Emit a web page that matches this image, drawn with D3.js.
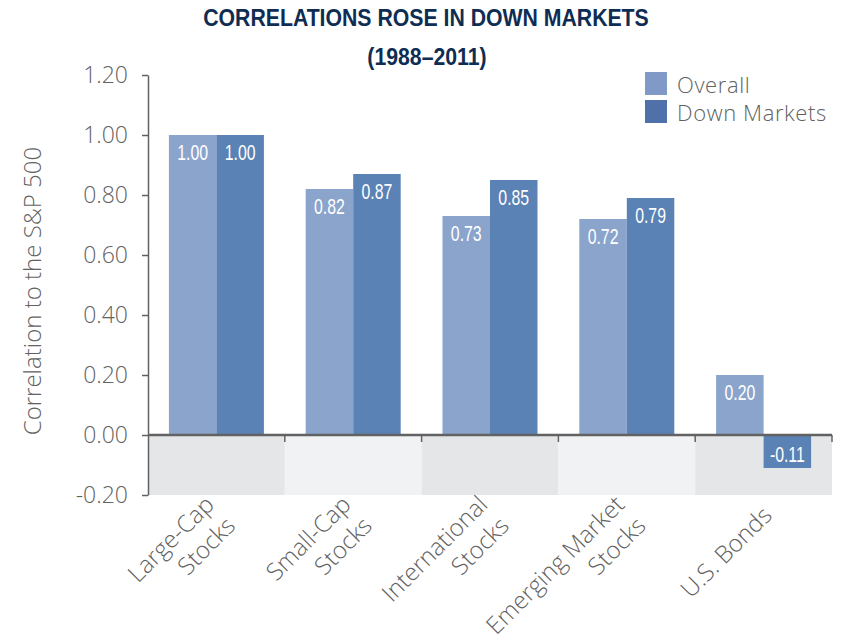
<!DOCTYPE html>
<html>
<head>
<meta charset="utf-8">
<script src="https://cdn.jsdelivr.net/npm/d3@7"></script>
<style>
  body { margin: 0; background: #fff; }
  text { font-family: "Open Sans", "Liberation Sans", sans-serif; }
</style>
</head>
<body>
<div id="chart"></div>
<script>
// chart data
const categories = ["Large-Cap Stocks", "Small-Cap Stocks", "International Stocks", "Emerging Market Stocks", "U.S. Bonds"];
const categoryLines = [["Large-Cap", "Stocks"], ["Small-Cap", "Stocks"], ["International", "Stocks"], ["Emerging Market", "Stocks"], ["U.S. Bonds"]];
const seriesNames = ["Overall", "Down Markets"];
const overall = [1.00, 0.82, 0.73, 0.72, 0.20];
const downMarkets = [1.00, 0.87, 0.85, 0.79, -0.11];
const yTicks = [-0.20, 0.00, 0.20, 0.40, 0.60, 0.80, 1.00, 1.20];

const width = 849;
const height = 642;
const plotLeft = 148, plotRight = 832, plotTop = 75, plotBottom = 495;

const barColours = { "Overall": "#8ba4cc", "Down Markets": "#5a82b5" };
const legendColours = { "Overall": "#8099c6", "Down Markets": "#4f70a8" };
const bandColours = ["#e5e6e8", "#f1f2f4"];
const grey = "#626262";

const rows = categories.map((c, i) => ({ cat: c, values: [
    { name: "Overall", value: overall[i] },
    { name: "Down Markets", value: downMarkets[i] }
]}));

const x0 = d3.scaleBand().domain(categories).range([plotLeft, plotRight]).padding(0);
const x1 = d3.scaleBand().domain(seriesNames).range([0, x0.bandwidth()])
    .paddingInner(0).paddingOuter(0.44);
const y = d3.scaleLinear().domain([-0.2, 1.2]).range([plotBottom, plotTop]);

const svg = d3.select('#chart').append('svg')
    .attr('width', width)
    .attr('height', height);

// title (squeezed sideways to look condensed)
svg.append('text')
    .attr('transform', 'translate(426, 18) scale(0.885, 1)')
    .attr('text-anchor', 'middle').attr('dominant-baseline', 'central')
    .style('font-family', '"Liberation Sans", sans-serif')
    .style('font-weight', 'bold').style('font-size', '24px')
    .attr('fill', '#0f2d52')
    .text('CORRELATIONS ROSE IN DOWN MARKETS');

svg.append('text')
    .attr('transform', 'translate(427, 57) scale(0.885, 1)')
    .attr('text-anchor', 'middle').attr('dominant-baseline', 'central')
    .style('font-family', '"Liberation Sans", sans-serif')
    .style('font-weight', 'bold').style('font-size', '24px')
    .attr('fill', '#0f2d52')
    .text('(1988–2011)');

// shaded bands below zero
svg.append('g').selectAll('rect')
    .data(categories)
    .enter().append('rect')
        .attr('x', d => x0(d))
        .attr('y', y(0))
        .attr('width', x0.bandwidth())
        .attr('height', y(-0.2) - y(0))
        .attr('fill', (d, i) => bandColours[i % 2]);

// bars
const groups = svg.append('g').selectAll('g')
    .data(rows)
    .enter().append('g')
        .attr('transform', d => `translate(${x0(d.cat)}, 0)`);

groups.selectAll('rect')
    .data(d => d.values)
    .enter().append('rect')
        .attr('x', d => x1(d.name))
        .attr('y', d => y(Math.max(d.value, 0)))
        .attr('width', x1.bandwidth())
        .attr('height', d => Math.abs(y(d.value) - y(0)))
        .attr('fill', d => barColours[d.name]);

// value labels inside the bars
groups.selectAll('text')
    .data(d => d.values)
    .enter().append('text')
        .attr('transform', d => {
            const lx = x1(d.name) + x1.bandwidth() / 2;
            const ly = d.value >= 0 ? y(d.value) + 18 : y(d.value) - 13;
            return `translate(${lx}, ${ly}) scale(0.72, 1)`;
        })
        .attr('text-anchor', 'middle')
        .attr('dominant-baseline', 'central')
        .style('font-family', '"Liberation Sans", sans-serif')
        .style('font-size', '22px')
        .attr('fill', '#fff')
        .text(d => d.value.toFixed(2));

// y axis
const yAxis = svg.append('g')
    .attr('transform', `translate(${plotLeft}, 0)`)
    .call(d3.axisLeft(y).tickValues(yTicks).tickFormat(d => d.toFixed(2))
        .tickSize(6).tickSizeOuter(0).tickPadding(14));
yAxis.select('.domain').attr('stroke', grey).attr('stroke-width', 1.5);
yAxis.selectAll('.tick line').attr('stroke', grey).attr('stroke-width', 1.5);
yAxis.selectAll('.tick text')
    .attr('fill', grey)
    .style('font-family', '"Open Sans", sans-serif')
    .style('font-weight', 300)
    .style('font-size', '23px');

svg.append('text')
    .attr('transform', `translate(31, 291) rotate(-90)`)
    .attr('text-anchor', 'middle').attr('dominant-baseline', 'central')
    .style('font-weight', 300).style('font-size', '24px')
    .attr('fill', grey)
    .text('Correlation to the S&P 500');

// x axis line at zero and ticks between categories
svg.append('line')
    .attr('x1', plotLeft).attr('x2', plotRight)
    .attr('y1', y(0)).attr('y2', y(0))
    .attr('stroke', grey).attr('stroke-width', 2.5);

svg.append('g').selectAll('line')
    .data(categories)
    .enter().append('line')
        .attr('x1', d => x0(d) + x0.bandwidth())
        .attr('x2', d => x0(d) + x0.bandwidth())
        .attr('y1', y(0)).attr('y2', y(0) + 7)
        .attr('stroke', grey).attr('stroke-width', 1.5);

// rotated category labels
const labels = svg.append('g').selectAll('g')
    .data(categories)
    .enter().append('g')
        .attr('transform', d => `translate(${x0(d) + x0.bandwidth() / 2 + 3}, 510) rotate(-45)`);

labels.each(function(d, i) {
    const lines = categoryLines[i];
    d3.select(this).selectAll('text')
        .data(lines)
        .enter().append('text')
            .attr('x', 0)
            .attr('y', (l, j) => (j - (lines.length - 1) / 2) * 30)
            .attr('text-anchor', 'end')
            .attr('dominant-baseline', 'central')
            .style('font-weight', 300).style('font-size', '24px')
            .attr('fill', grey)
            .text(l => l);
});

// legend
const legend = svg.append('g').selectAll('g')
    .data(seriesNames)
    .enter().append('g')
        .attr('transform', (d, i) => `translate(645, ${72 + i * 28})`);

legend.append('rect')
    .attr('width', 22).attr('height', 23)
    .attr('fill', d => legendColours[d]);

legend.append('text')
    .attr('x', 32).attr('y', 12)
    .attr('dominant-baseline', 'central')
    .style('font-weight', 300).style('font-size', '22px')
    .style('letter-spacing', '0.6px')
    .attr('fill', grey)
    .text(d => d);
</script>
</body>
</html>
